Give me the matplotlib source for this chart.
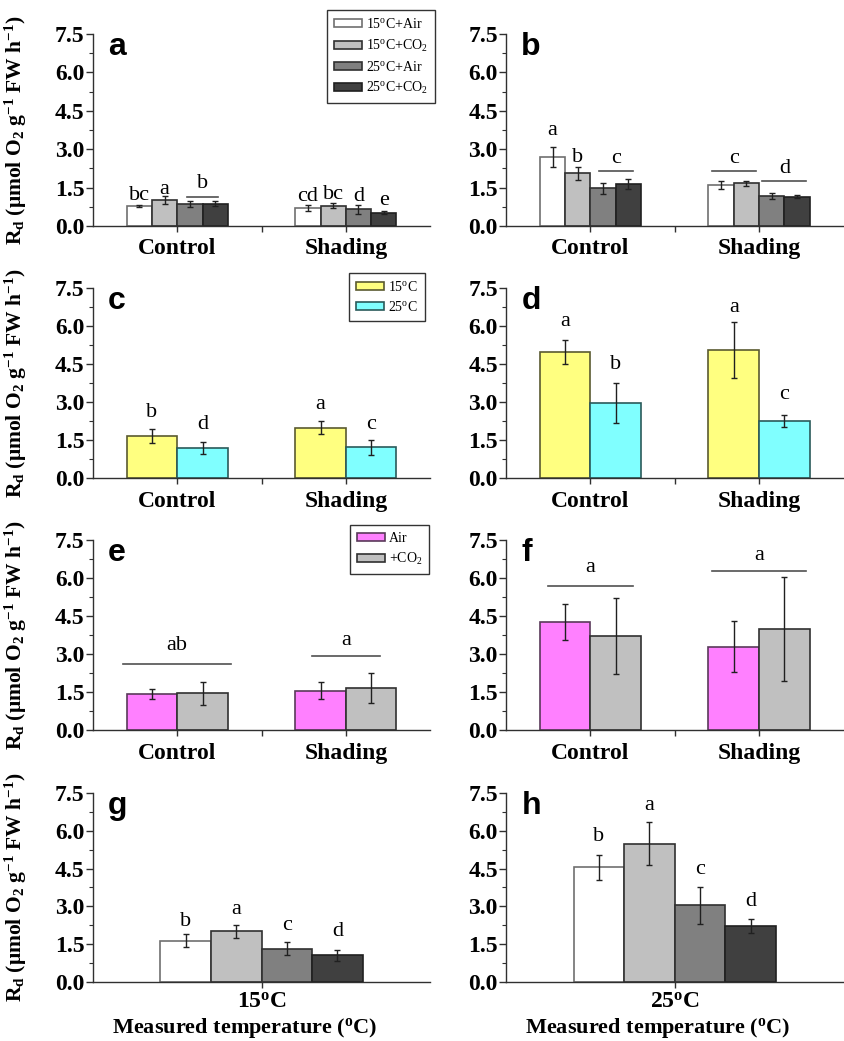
import numpy as np
import matplotlib.pyplot as plt
from matplotlib.patches import Patch
from matplotlib.ticker import MultipleLocator

plt.rcParams['font.family'] = ['Liberation Serif', 'DejaVu Serif']
plt.rcParams['mathtext.fontset'] = 'custom'
plt.rcParams['mathtext.rm'] = 'Liberation Serif'
plt.rcParams['mathtext.bf'] = 'Liberation Serif:bold'
plt.rcParams['mathtext.it'] = 'Liberation Serif:italic'

# ---- data ----
groups = ['Control', 'Shading']

# four treatments: 15C+Air, 15C+CO2, 25C+Air, 25C+CO2
four_labels = [r'15$^{\mathrm{o}}$C+Air', r'15$^{\mathrm{o}}$C+CO$_{\mathrm{2}}$',
               r'25$^{\mathrm{o}}$C+Air', r'25$^{\mathrm{o}}$C+CO$_{\mathrm{2}}$']
four_colors = ['#ffffff', '#c0c0c0', '#808080', '#404040']
four_edges = ['#707070', '#303030', '#303030', '#202020']

a_vals = [[0.76, 1.02, 0.86, 0.86], [0.70, 0.78, 0.65, 0.51]]
a_errs = [[0.04, 0.16, 0.13, 0.10], [0.11, 0.10, 0.18, 0.06]]
b_vals = [[2.68, 2.05, 1.47, 1.64], [1.60, 1.66, 1.17, 1.14]]
b_errs = [[0.39, 0.25, 0.22, 0.19], [0.14, 0.09, 0.12, 0.05]]

# temperature only
temp_labels = [r'15$^{\mathrm{o}}$C', r'25$^{\mathrm{o}}$C']
temp_colors = ['#ffff80', '#80ffff']
temp_edges = ['#5a5a30', '#2a5a5a']
c_vals = [[1.66, 1.17], [1.99, 1.21]]
c_errs = [[0.26, 0.24], [0.25, 0.29]]
d_vals = [[4.97, 2.97], [5.04, 2.25]]
d_errs = [[0.47, 0.78], [1.10, 0.24]]

# CO2 only
co2_labels = ['Air', r'+CO$_{\mathrm{2}}$']
co2_colors = ['#ff80ff', '#c0c0c0']
co2_edges = ['#5a3a5a', '#303030']
e_vals = [[1.41, 1.45], [1.55, 1.67]]
e_errs = [[0.20, 0.46], [0.34, 0.59]]
f_vals = [[4.26, 3.71], [3.29, 4.00]]
f_errs = [[0.71, 1.51], [1.00, 2.05]]

# measured temperature panels
g_vals = [1.64, 2.01, 1.32, 1.06]
g_errs = [0.26, 0.26, 0.26, 0.22]
h_vals = [4.55, 5.49, 3.04, 2.22]
h_errs = [0.50, 0.84, 0.73, 0.26]

# significance letters: (group, bar, letter, y)
a_letters = [(0, 0, 'bc', 1.02), (0, 1, 'a', 1.25), (1, 0, 'cd', 0.99),
             (1, 1, 'bc', 1.05), (1, 2, 'd', 0.99), (1, 3, 'e', 0.80)]
b_letters = [(0, 0, 'a', 3.55), (0, 1, 'b', 2.51)]
c_letters = [(0, 0, 'b', 2.41), (0, 1, 'd', 1.95), (1, 0, 'a', 2.74), (1, 1, 'c', 1.95)]
d_letters = [(0, 0, 'a', 5.99), (0, 1, 'b', 4.32), (1, 0, 'a', 6.55), (1, 1, 'c', 3.13)]
g_letters = ['b', 'a', 'c', 'd']
g_letter_y = [2.21, 2.71, 2.05, 1.81]
h_letters = ['b', 'a', 'c', 'd']
h_letter_y = [5.58, 6.84, 4.30, 3.03]

# grouping lines: (group, first bar, last bar, letter, line y, letter y, inset)
a_lines = [(0, 2, 3, 'b', 1.12, 1.50, 0.06)]
b_lines = [(0, 2, 3, 'c', 2.16, 2.46, 0.05), (1, 0, 1, 'c', 2.16, 2.46, 0.02),
           (1, 2, 3, 'd', 1.77, 2.08, 0.02)]
e_lines = [(0, 0, 1, 'ab', 2.61, 3.16, -0.02), (1, 0, 1, 'a', 2.92, 3.36, 0.1)]
f_lines = [(0, 0, 1, 'a', 5.68, 6.25, 0.05), (1, 0, 1, 'a', 6.28, 6.71, 0.02)]

fig = plt.figure(figsize=(8.45, 10.41), dpi=100)

W = 0.399
col_x = [0.110, 0.599]
row_y = [0.783, 0.5408, 0.2987, 0.0567]
row_h = [0.1844, 0.1825, 0.1825, 0.1816]

tick_font = dict(family='Liberation Serif', weight='bold', size=17)
ylab = (r'R$_{\mathbf{d}}$ (μmol O$_{\mathbf{2}}$ g$^{\mathbf{-1}}$ '
        r'FW h$^{\mathbf{-1}}$)')


def make_ax(row, col):
    ax = fig.add_axes([col_x[col], row_y[row], W, row_h[row]])
    ax.set_ylim(0, 7.5)
    ax.yaxis.set_major_locator(MultipleLocator(1.5))
    ax.yaxis.set_minor_locator(MultipleLocator(0.75))
    ax.set_yticks(np.arange(0, 7.6, 1.5))
    ax.set_yticklabels(['%.1f' % v for v in np.arange(0, 7.6, 1.5)], **tick_font)
    for s in ['top', 'right']:
        ax.spines[s].set_visible(False)
    for s in ['left', 'bottom']:
        ax.spines[s].set_linewidth(1.0)
        ax.spines[s].set_color('#303030')
    ax.tick_params(axis='y', which='major', length=5, width=1, pad=1, color='#303030')
    ax.tick_params(axis='y', which='minor', length=3, width=0.8, color='#303030')
    ax.tick_params(axis='x', which='major', length=4, width=1, pad=5, color='#303030')
    ax.tick_params(axis='x', which='minor', length=4, width=1, color='#303030')
    if col == 0:
        ax.set_ylabel(ylab, fontsize=15.5, fontweight='bold')
        ax.yaxis.set_label_coords(-0.19, 0.5)
    return ax


def panel_letter(ax, s):
    ax.text(0.045, 0.89, s, transform=ax.transAxes, family='Liberation Sans',
            weight='bold', size=23, va='baseline', ha='left')


def grouped(ax, vals, errs, colors, edges, width):
    n = len(colors)
    offs = (np.arange(n) - (n - 1) / 2) * width
    centers = np.arange(1, len(groups) + 1)
    for i in range(n):
        x = centers + offs[i]
        v = [vals[g][i] for g in range(len(groups))]
        e = [errs[g][i] for g in range(len(groups))]
        ax.bar(x, v, width, color=colors[i], edgecolor=edges[i], linewidth=1.2, zorder=2)
        ax.errorbar(x, v, yerr=e, fmt='none', ecolor='#202020', elinewidth=1,
                    capsize=2.5, capthick=1, zorder=3)
    ax.set_xlim(0.5, 2.5)
    ax.set_xticks(centers)
    ax.set_xticks([1.5], minor=True)
    ax.set_xticklabels(groups, fontsize=17, fontweight='bold')
    return centers, offs


def add_letters(ax, centers, offs, letters):
    for g, b, s, y in letters:
        ax.text(centers[g] + offs[b], y, s, ha='center', va='baseline', fontsize=16)


def add_lines(ax, centers, offs, width, lines):
    for g, b0, b1, s, ly, ty, inset in lines:
        x0 = centers[g] + offs[b0] - width / 2 + inset
        x1 = centers[g] + offs[b1] + width / 2 - inset
        ax.plot([x0, x1], [ly, ly], color='#505050', lw=1.2, zorder=3)
        ax.text((x0 + x1) / 2, ty, s, ha='center', va='baseline', fontsize=16)


def legend(ax, labels, colors, edges, right, top):
    handles = [Patch(facecolor=c, edgecolor=e, linewidth=1.2) for c, e in zip(colors, edges)]
    leg = ax.legend(handles, labels, loc='upper right', bbox_to_anchor=(right, top),
                    bbox_transform=fig.transFigure, borderaxespad=0, fontsize=10,
                    frameon=True, fancybox=False, handlelength=2.0, handleheight=0.5,
                    handletextpad=0.3, labelspacing=0.45, borderpad=0.5)
    leg.get_frame().set_edgecolor('black')
    leg.get_frame().set_linewidth(1.0)


# a
ax = make_ax(0, 0)
cen, off = grouped(ax, a_vals, a_errs, four_colors, four_edges, 0.15)
add_letters(ax, cen, off, a_letters)
add_lines(ax, cen, off, 0.15, a_lines)
panel_letter(ax, 'a')
legend(ax, four_labels, four_colors, four_edges, 0.515, 0.990)

# b
ax = make_ax(0, 1)
cen, off = grouped(ax, b_vals, b_errs, four_colors, four_edges, 0.15)
add_letters(ax, cen, off, b_letters)
add_lines(ax, cen, off, 0.15, b_lines)
panel_letter(ax, 'b')

# c
ax = make_ax(1, 0)
cen, off = grouped(ax, c_vals, c_errs, temp_colors, temp_edges, 0.3)
add_letters(ax, cen, off, c_letters)
panel_letter(ax, 'c')
legend(ax, temp_labels, temp_colors, temp_edges, 0.503, 0.738)

# d
ax = make_ax(1, 1)
cen, off = grouped(ax, d_vals, d_errs, temp_colors, temp_edges, 0.3)
add_letters(ax, cen, off, d_letters)
panel_letter(ax, 'd')

# e
ax = make_ax(2, 0)
cen, off = grouped(ax, e_vals, e_errs, co2_colors, co2_edges, 0.3)
add_lines(ax, cen, off, 0.3, e_lines)
panel_letter(ax, 'e')
legend(ax, co2_labels, co2_colors, co2_edges, 0.508, 0.4957)

# f
ax = make_ax(2, 1)
cen, off = grouped(ax, f_vals, f_errs, co2_colors, co2_edges, 0.3)
add_lines(ax, cen, off, 0.3, f_lines)
panel_letter(ax, 'f')

# g, h
for col, vals, errs, lets, ly, lab, letter in [
        (0, g_vals, g_errs, g_letters, g_letter_y, r'15$^{\mathbf{o}}$C', 'g'),
        (1, h_vals, h_errs, h_letters, h_letter_y, r'25$^{\mathbf{o}}$C', 'h')]:
    ax = make_ax(3, col)
    width = 0.15
    x = 1 + (np.arange(4) - 1.5) * width
    ax.bar(x, vals, width, color=four_colors, edgecolor=four_edges, linewidth=1.2, zorder=2)
    ax.errorbar(x, vals, yerr=errs, fmt='none', ecolor='#202020', elinewidth=1,
                capsize=2.5, capthick=1, zorder=3)
    for xi, s, y in zip(x, lets, ly):
        ax.text(xi, y, s, ha='center', va='baseline', fontsize=16)
    ax.set_xlim(0.5, 1.5)
    ax.set_xticks([1])
    ax.set_xticklabels([lab], fontsize=17, fontweight='bold')
    ax.tick_params(axis='x', which='major', pad=3)
    ax.set_xlabel(r'Measured temperature ($^{\mathbf{o}}$C)', fontsize=16,
                  fontweight='bold')
    ax.xaxis.set_label_coords(0.45, -0.178)
    panel_letter(ax, letter)

fig.savefig('out.png', dpi=100)
